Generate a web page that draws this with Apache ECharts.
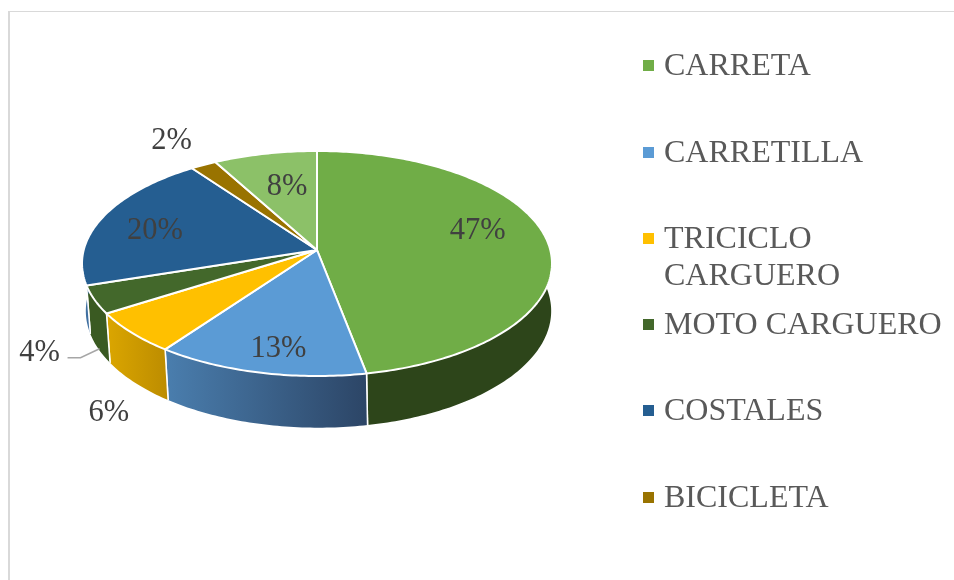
<!DOCTYPE html>
<html>
<head>
<meta charset="utf-8">
<script src="https://cdn.jsdelivr.net/npm/echarts@6/dist/echarts.min.js"></script>
<style>
  html, body { margin: 0; padding: 0; background: #fff; }
  #chart { width: 954px; height: 580px; }
</style>
</head>
<body>
<div id="chart"></div>
<script>
// shares in %, clockwise from 12 o'clock
const values = [47, 13, 6, 4, 20, 2, 8]
// the reference legend is cut off: the last slice has no entry
const categories = ['CARRETA', 'CARRETILLA', 'TRICICLO\nCARGUERO', 'MOTO CARGUERO', 'COSTALES', 'BICICLETA']

const topColors = ['#70AD47', '#5B9BD5', '#FFC000', '#43682B', '#255E91', '#997300', '#8CC168']
const sideColors = [
  ['#2D451A', '#2D451A'],
  ['#4A7EAE', '#2C4566'],
  ['#DBA600', '#BC8C00'],
  ['#3A5A22', '#3A5A22'],
  ['#3F6FA0', '#3F6FA0'],
  ['#6B5100', '#6B5100'],
  ['#5F8A45', '#5F8A45']
]

// label offset from the middle of each slice's rim
const labelShift = [[-69, -9], [19, -24], [-23, 80], [-55, 53], [52, 14], [-32, -24], [22, 33]]
// leader line of the 4% label, same origin
const leaderIndex = 3
const leaderShift = [[-27, 58], [-14, 58], [5, 49]]

const legendTop = [60, 147, 233, 319, 405, 492]

// perspective disc: top face and bottom face of the cylinder
const topDisc = { cx: 317, cy: 250, a: 233.3, b: 110.9, k: 0.12 }
const bottomDisc = { cx: 318.5, cy: 297, a: 231, b: 115, k: 0.12 }

const FONT = '"Liberation Serif", "Times New Roman", serif'
const total = values.reduce((s, v) => s + v, 0)

function project(disc, share) {
  const phi = share / total * Math.PI * 2
  const u = Math.sin(phi)
  const v = Math.cos(phi)
  const w = 1 + disc.k * v
  return [disc.cx + disc.a * u / w, disc.cy - disc.b * v / w]
}

function arc(disc, from, to) {
  const steps = Math.max(2, Math.ceil((to - from) * 4))
  const pts = []
  for (let i = 0; i <= steps; i++) {
    pts.push(project(disc, from + (to - from) * i / steps))
  }
  return pts
}

function sliceRange(i) {
  const from = values.slice(0, i).reduce((s, v) => s + v, 0)
  return [from, from + values[i]]
}

function edgeLine(share) {
  const a = project(topDisc, share)
  const b = project(bottomDisc, share)
  return {
    type: 'line',
    shape: { x1: a[0], y1: a[1], x2: b[0], y2: b[1] },
    style: { stroke: '#fff', lineWidth: 1.5 }
  }
}

function renderSide(params) {
  const i = params.dataIndex
  const [from, to] = sliceRange(i)
  const points = arc(topDisc, from, to).concat(arc(bottomDisc, from, to).reverse())
  return {
    type: 'group',
    children: [{
      type: 'polygon',
      shape: { points },
      style: {
        fill: {
          type: 'linear', x: 0, y: 0, x2: 1, y2: 0,
          colorStops: [
            { offset: 0, color: sideColors[i][0] },
            { offset: 1, color: sideColors[i][1] }
          ]
        }
      }
    }, edgeLine(from), edgeLine(to)]
  }
}

function renderTop(params) {
  const i = params.dataIndex
  const [from, to] = sliceRange(i)
  const points = [[topDisc.cx, topDisc.cy]].concat(arc(topDisc, from, to))
  return {
    type: 'polygon',
    shape: { points },
    style: { fill: topColors[i], stroke: '#fff', lineWidth: 2, lineJoin: 'round' }
  }
}

function renderLabel(params) {
  const i = params.dataIndex
  const [from, to] = sliceRange(i)
  const mid = project(topDisc, (from + to) / 2)
  const children = [{
    type: 'text',
    style: {
      text: values[i] + '%',
      x: mid[0] + labelShift[i][0],
      y: mid[1] + labelShift[i][1],
      align: 'center',
      verticalAlign: 'middle',
      fontSize: 30.5,
      fontFamily: FONT,
      fill: '#404040'
    }
  }]
  if (i === leaderIndex) {
    children.push({
      type: 'polyline',
      shape: { points: leaderShift.map(s => [mid[0] + s[0], mid[1] + s[1]]) },
      style: { fill: 'none', stroke: '#A6A6A6', lineWidth: 1.5 }
    })
  }
  return { type: 'group', children }
}

// frame and legend
const graphic = [
  { type: 'rect', shape: { x: 8, y: 11, width: 2, height: 569 }, style: { fill: '#D9D9D9' } },
  { type: 'rect', shape: { x: 8, y: 11, width: 946, height: 1 }, style: { fill: '#D9D9D9' } }
]
categories.forEach((name, i) => {
  graphic.push({
    type: 'rect',
    shape: { x: 643, y: legendTop[i], width: 11, height: 11 },
    style: { fill: topColors[i] }
  })
  graphic.push({
    type: 'text',
    style: {
      text: name,
      x: 664,
      y: legendTop[i] + 5.5 - 17,
      align: 'left',
      verticalAlign: 'top',
      fontSize: 32,
      lineHeight: 37,
      fontFamily: FONT,
      fill: '#595959'
    }
  })
})

const chart = echarts.init(document.getElementById('chart'), null, { renderer: 'canvas' })
chart.setOption({
  animation: false,
  backgroundColor: '#fff',
  graphic,
  series: [
    { type: 'custom', coordinateSystem: 'none', z: 1, data: values, renderItem: renderSide, silent: true },
    { type: 'custom', coordinateSystem: 'none', z: 2, data: values, renderItem: renderTop, silent: true },
    { type: 'custom', coordinateSystem: 'none', z: 3, data: values, renderItem: renderLabel, silent: true }
  ]
})
</script>
</body>
</html>
